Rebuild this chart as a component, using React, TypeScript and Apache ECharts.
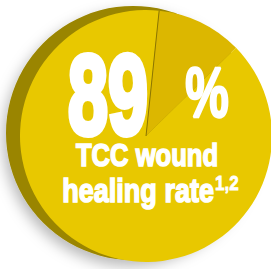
import React, { useEffect, useRef } from "react";
import * as echarts from "echarts";

const sliceNames = ["Not healed", "Healed"];
const sliceValues = [11, 89];
const sliceColors = ["#DCB700", "#E8C800"];
const headline = "89";
const headlineUnit = "%";
const captionLine1 = "TCC wound";
const captionLine2 = "healing rate";
const captionRefs = "1,2";

const FONT = '"Liberation Sans", Arial, sans-serif';

export default function App() {
  const ref = useRef<HTMLDivElement>(null);
  useEffect(() => {
    document.body.style.margin = "0";
    const chart = echarts.init(ref.current!, null, { renderer: "svg" });
    const cx = 146;
    const cy = 136;
    const r = 126;
    const startAngle = 84;
    const rad = (startAngle * Math.PI) / 180;
    const txt = (
      text: string,
      x: number,
      y: number,
      size: number,
      sx: number,
      align: string,
      vAlign: string,
      stroke: number
    ) => ({
      type: "text",
      z: 101,
      silent: true,
      x,
      y,
      scaleX: sx,
      style: {
        text,
        fill: "#ffffff",
        stroke: "#ffffff",
        lineWidth: stroke,
        lineJoin: "round",
        fontFamily: FONT,
        fontWeight: "bold",
        fontSize: size,
        align,
        verticalAlign: vAlign,
      },
    });
    chart.setOption({
      animation: false,
      backgroundColor: "#ffffff",
      series: [
        {
          type: "pie",
          silent: true,
          center: [133, 133],
          radius: 127,
          label: { show: false },
          labelLine: { show: false },
          emphasis: { disabled: true },
          data: [{ value: 1, name: "side" }],
          itemStyle: {
            color: "#9A8500",
            shadowBlur: 14,
            shadowOffsetX: -3,
            shadowOffsetY: 6,
            shadowColor: "rgba(0,0,0,0.28)",
          },
        },
        {
          type: "pie",
          silent: true,
          center: [cx, cy],
          radius: r,
          startAngle,
          clockwise: true,
          label: { show: false },
          labelLine: { show: false },
          emphasis: { disabled: true },
          data: sliceNames.map((n, i) => ({
            name: n,
            value: sliceValues[i],
            itemStyle: { color: sliceColors[i] },
          })),
        },
      ],
      graphic: [
        {
          type: "line",
          silent: true,
          z: 100,
          shape: { x1: cx, y1: cy, x2: cx + r * Math.cos(rad), y2: cy - r * Math.sin(rad) },
          style: { stroke: "#8C7600", lineWidth: 1 },
        },
        txt(headline, 108, 95, 114, 0.63, "center", "middle", 6),
        txt(headlineUnit, 207, 93, 70, 0.7, "center", "middle", 2.5),
        txt(captionLine1, 147, 155, 32, 0.8, "center", "middle", 1.6),
        txt(captionLine2, 214, 191, 33, 0.82, "right", "middle", 1.6),
        txt(captionRefs, 215, 193, 20, 0.85, "left", "bottom", 0.8),
      ],
    });
    return () => chart.dispose();
  }, []);
  return <div ref={ref} style={{ width: 271, height: 269 }} />;
}
